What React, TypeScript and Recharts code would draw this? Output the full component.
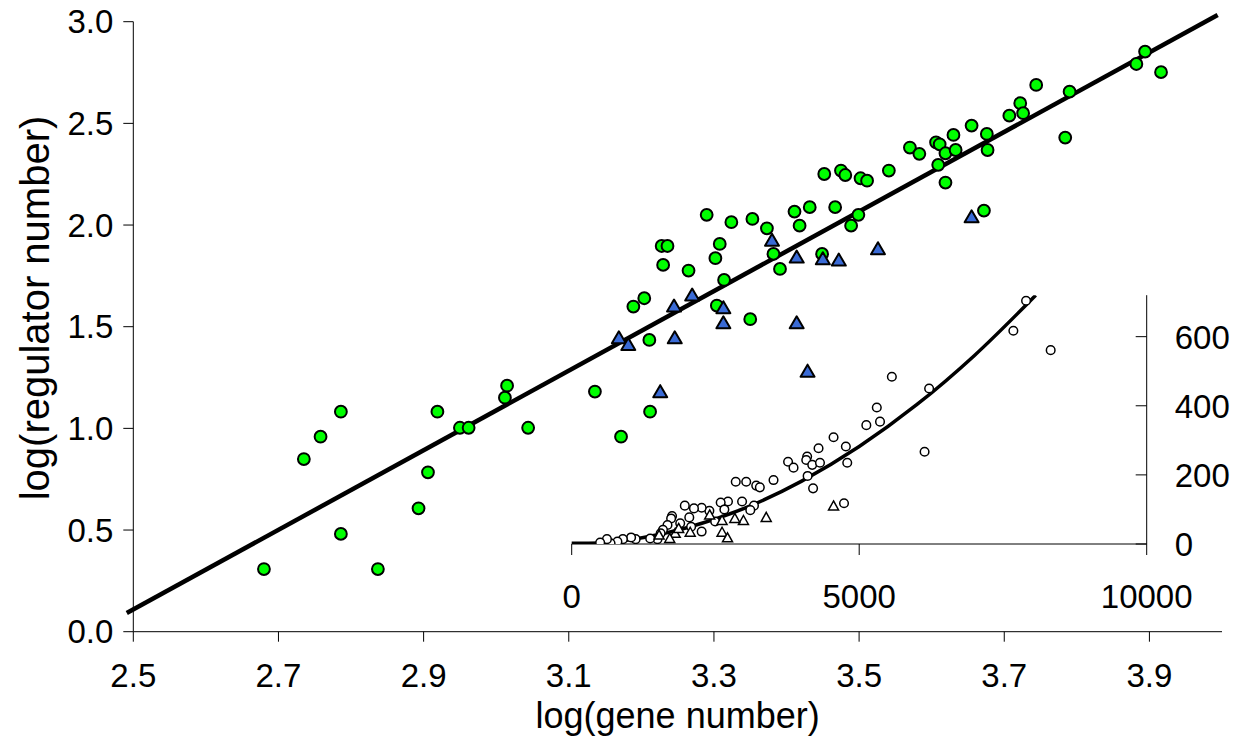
import { ComposedChart, Scatter, XAxis, YAxis } from 'recharts';

const FONT = 'Arial, "Liberation Sans", Helvetica, sans-serif';

// main panel: log(gene number) vs log(regulator number)
const greenX = [
  2.68, 2.735, 2.758, 2.786, 2.786, 2.837, 2.893, 2.906, 2.919, 2.95, 2.962, 3.012, 3.015, 3.044,
  3.136, 3.172, 3.212, 3.189, 3.204, 3.211, 3.228, 3.236, 3.23, 3.265, 3.29, 3.308, 3.302, 3.314,
  3.304, 3.324, 3.35, 3.353, 3.373, 3.382, 3.391, 3.411, 3.418, 3.432, 3.452, 3.467, 3.449, 3.475,
  3.481, 3.489, 3.499, 3.502, 3.511, 3.541, 3.57, 3.583, 3.606, 3.611, 3.619, 3.609, 3.619, 3.63,
  3.633, 3.655, 3.676, 3.677, 3.672, 3.707, 3.722, 3.726, 3.744, 3.79, 3.784, 3.882, 3.894, 3.916,
];
const greenY = [
  0.308, 0.849, 0.959, 1.082, 0.481, 0.308, 0.607, 0.784, 1.082, 1.003, 1.003, 1.151, 1.21, 1.003,
  1.181, 0.959, 1.082, 1.599, 1.64, 1.435, 1.897, 1.897, 1.804, 1.776, 2.05, 1.907, 1.837, 1.73,
  1.604, 2.014, 1.537, 2.03, 1.984, 1.858, 1.784, 2.066, 1.997, 2.088, 2.251, 2.088, 1.858, 2.268,
  2.246, 1.997, 2.05, 2.23, 2.218, 2.268, 2.381, 2.35, 2.407, 2.397, 2.353, 2.296, 2.209, 2.443,
  2.369, 2.489, 2.448, 2.369, 2.071, 2.538, 2.599, 2.55, 2.689, 2.656, 2.43, 2.792, 2.853, 2.752,
];
const blueX = [3.169, 3.182, 3.226, 3.246, 3.245, 3.27, 3.313, 3.313, 3.38, 3.414, 3.414, 3.429, 3.45, 3.472, 3.526, 3.655];
const blueY = [1.443, 1.41, 1.178, 1.443, 1.599, 1.653, 1.591, 1.517, 1.923, 1.84, 1.517, 1.279, 1.832, 1.825, 1.881, 2.038];
// regression line, read at its two ends (it runs a little past the axes)
const fitX = [2.491, 3.994];
const fitY = [0.092, 3.033];
const xTicks = [2.5, 2.7, 2.9, 3.1, 3.3, 3.5, 3.7, 3.9];
const yTicks = [0, 0.5, 1, 1.5, 2, 2.5, 3];

// inset: raw counts
const insetCircleX = [
  7902, 7681, 8330, 5568, 6216, 5306, 5124, 5362, 6137, 4554, 4293, 4768, 4792, 4095, 4079, 4183,
  4318, 3763, 3858, 4103, 4198, 3510, 2853, 3035, 3209, 3272, 4736, 3170, 3106, 2963, 2718, 2591,
  2655, 2394, 2260, 2126, 1967, 2045, 1745, 1729, 1887, 2077, 2260, 1666, 1587, 1547, 1492, 1365,
  1112, 1033, 890, 795, 676, 613, 495, 2495,
];
const insetCircleY = [
  704, 617, 561, 484, 450, 395, 344, 354, 267, 309, 277, 282, 235, 253, 243, 229,
  235, 238, 221, 197, 161, 185, 180, 180, 169, 164, 118, 111, 98, 123, 123, 120,
  100, 96, 105, 103, 111, 77, 81, 74, 60, 50, 36, 55, 41, 31, 14, 16,
  14, 19, 14, 7, 2, 14, 4, 65,
];
const insetTriX = [4554, 3383, 2987, 2837, 2615, 2615, 2710, 2061, 1800, 1705, 2400, 1860, 1520];
const insetTriY = [110, 77, 68, 74, 68, 34, 18, 34, 31, 16, 84, 45, 26];
const curveX = [0, 500, 1000, 2000, 3000, 4000, 5000, 6000, 7000, 8070];
const curveY = [2, 3, 12, 47, 103, 182, 282, 403, 545, 720];
const insetXTicks = [0, 5000, 10000];
const insetYTicks = [0, 200, 400, 600];

const zip = (xs: number[], ys: number[]) => xs.map((x, i) => ({ x, y: ys[i] }));

const GreenDot = (p: any) => (
  <circle cx={p.cx} cy={p.cy} r={5.9} fill="#00ff00" stroke="#000" strokeWidth={2} />
);
const BlueTri = (p: any) => (
  <polygon
    points={`${p.cx},${p.cy - 7} ${p.cx + 7},${p.cy + 5} ${p.cx - 7},${p.cy + 5}`}
    fill="#3a6bd6"
    stroke="#000"
    strokeWidth={2}
    strokeLinejoin="round"
  />
);
const OpenDot = (p: any) => (
  <circle cx={p.cx} cy={p.cy} r={4.3} fill="#fff" stroke="#000" strokeWidth={1.5} />
);
const OpenTri = (p: any) => (
  <polygon
    points={`${p.cx},${p.cy - 5} ${p.cx + 5},${p.cy + 4} ${p.cx - 5},${p.cy + 4}`}
    fill="#fff"
    stroke="#000"
    strokeWidth={1.5}
  />
);
const NoDot = () => <g />;

const tickStyle = { fontSize: 33, fill: '#000', fontFamily: FONT };

// inset y axis: tick marks point inward (left), labels sit on the right
const INSET_GAP = 28;
const InsetYTick = (p: any) => (
  <g>
    <line x1={p.x - INSET_GAP - 11} x2={p.x - INSET_GAP} y1={p.y} y2={p.y} stroke="#000" />
    <text x={p.x} y={p.y} dy="0.36em" textAnchor="start" fontSize={33} fontFamily={FONT} fill="#000">
      {p.payload.value}
    </text>
  </g>
);

export default function App() {
  return (
    <div style={{ position: 'relative', width: 1253, height: 745, background: '#fff', fontFamily: FONT }}>
      <style>{'body{margin:0}'}</style>
      {/* fit line on its own layer so it can run past the plot edges */}
      <div style={{ position: 'absolute', left: 0, top: 0 }}>
        <ComposedChart width={1253} height={745} margin={{ top: 1.37, right: 31, bottom: 113.3, left: 97 }}>
          <XAxis type="number" dataKey="x" domain={[2.45, 4.0]} allowDataOverflow hide />
          <YAxis type="number" dataKey="y" domain={[0, 3.1]} allowDataOverflow hide />
          <Scatter data={zip(fitX, fitY)} line={{ stroke: '#000', strokeWidth: 4.5 }} shape={NoDot} isAnimationActive={false} />
        </ComposedChart>
      </div>
      <div style={{ position: 'absolute', left: 0, top: 0 }}>
        <ComposedChart width={1253} height={745} margin={{ top: 21.7, right: 31, bottom: 43.3, left: 0 }}>
          <XAxis
            type="number"
            dataKey="x"
            domain={[2.5, 4.0]}
            ticks={xTicks}
            interval={0}
            allowDataOverflow
            height={70}
            tickSize={10}
            tickMargin={22}
            tickFormatter={(v: number) => v.toFixed(1)}
            tick={tickStyle}
            stroke="#000"
          />
          <YAxis
            type="number"
            dataKey="y"
            domain={[0, 3]}
            ticks={yTicks}
            interval={0}
            allowDataOverflow
            width={133.3}
            tickSize={10}
            tickMargin={10}
            tickFormatter={(v: number) => v.toFixed(1)}
            tick={tickStyle}
            stroke="#000"
          />
          <Scatter data={zip(greenX, greenY)} shape={GreenDot} isAnimationActive={false} />
          <Scatter data={zip(blueX, blueY)} shape={BlueTri} isAnimationActive={false} />
        </ComposedChart>
      </div>
      <div style={{ position: 'absolute', left: 0, top: 0 }}>
        <ComposedChart width={1253} height={745} margin={{ top: 295.2, right: 26.3, bottom: 151, left: 571.7 }}>
          <XAxis
            type="number"
            dataKey="x"
            domain={[0, 10000]}
            ticks={insetXTicks}
            interval={0}
            height={50}
            tickSize={11}
            tickMargin={30}
            tick={tickStyle}
            stroke="#000"
          />
          <YAxis
            type="number"
            dataKey="y"
            orientation="right"
            domain={[0, 720]}
            ticks={insetYTicks}
            interval={0}
            allowDataOverflow
            width={80}
            tickLine={false}
            tickSize={0}
            tickMargin={INSET_GAP}
            tick={InsetYTick}
            stroke="#000"
          />
          <Scatter
            data={zip(curveX, curveY)}
            line={{ stroke: '#000', strokeWidth: 3.5 }}
            lineJointType="monotoneX"
            shape={NoDot}
            isAnimationActive={false}
          />
          <Scatter data={zip(insetCircleX, insetCircleY)} shape={OpenDot} isAnimationActive={false} />
          <Scatter data={zip(insetTriX, insetTriY)} shape={OpenTri} isAnimationActive={false} />
        </ComposedChart>
      </div>
      <div
        style={{
          position: 'absolute',
          left: 677.6,
          top: 697.5,
          transform: 'translateX(-50%)',
          fontSize: 36,
          lineHeight: 1,
          whiteSpace: 'nowrap',
        }}
      >
        log(gene number)
      </div>
      <div
        style={{
          position: 'absolute',
          left: 35,
          top: 308,
          transform: 'translate(-50%, -50%) rotate(-90deg)',
          fontSize: 40,
          lineHeight: 1,
          whiteSpace: 'nowrap',
        }}
      >
        log(regulator number)
      </div>
    </div>
  );
}
